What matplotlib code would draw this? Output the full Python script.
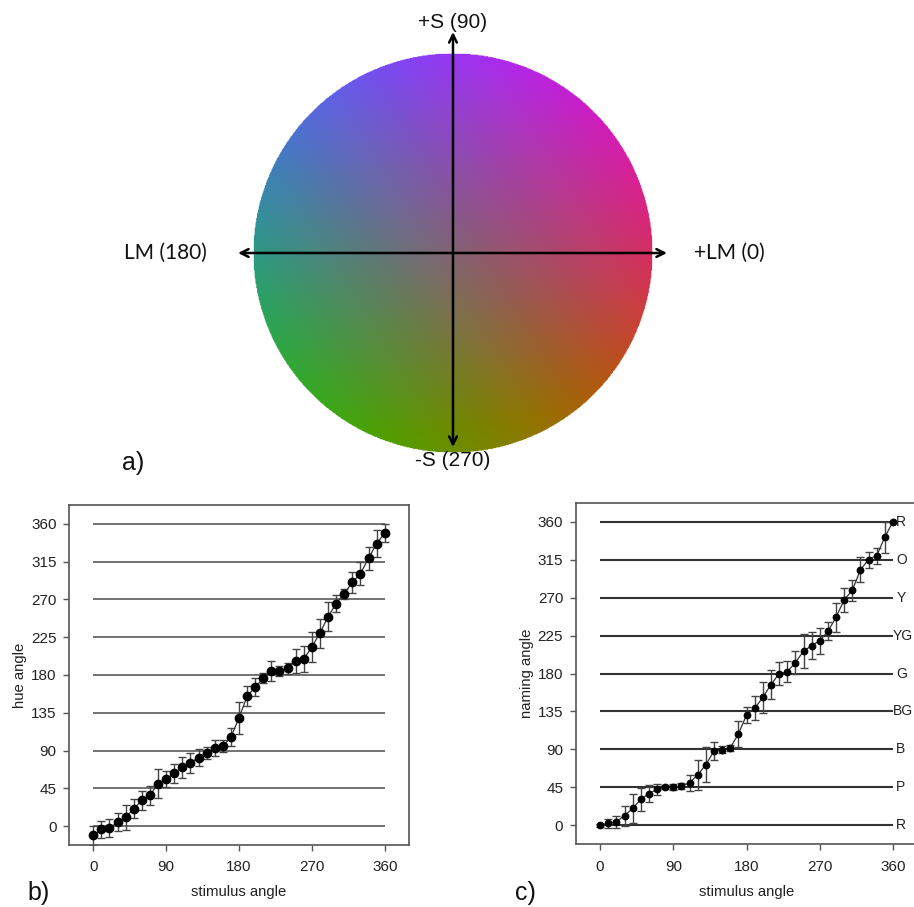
import numpy as np
import matplotlib
matplotlib.use("Agg")
import matplotlib.pyplot as plt
from matplotlib.patches import Circle

plt.rcParams['font.family'] = ['Liberation Sans', 'DejaVu Sans']

# ---------------- data ----------------
stimulus = [0, 10, 20, 30, 40, 50, 60, 70, 80, 90, 100, 110, 120, 130, 140, 150,
            160, 170, 180, 190, 200, 210, 220, 230, 240, 250, 260, 270, 280, 290,
            300, 310, 320, 330, 340, 350, 360]

hue_b = [-11, -4, -2.4, 4.8, 10.7, 20.7, 30.6, 36.6, 50.5, 56, 62.8, 70, 75.5,
         81.5, 87, 92.6, 95.4, 106, 129, 154.6, 165.7, 176, 184.8, 184.8, 188,
         196.7, 199, 213.4, 230, 249.5, 265, 277, 290.5, 300.8, 319, 336.5, 348.9]
err_b = [11, 9.7, 10.7, 10.3, 15, 11.3, 11, 11.3, 17, 9.5, 11, 12.3, 12, 10, 7.4,
         9.5, 7.7, 10.7, 19, 12, 11, 6, 12.3, 5.6, 6.8, 14.3, 16, 17.7, 17.3, 17.5,
         10.3, 6, 12.5, 13.3, 14, 16, 11]

naming_c = [0, 2.4, 4.3, 11.5, 20, 30.8, 37.5, 42.7, 45.5, 45.5, 46.2, 50.6, 59.7,
            72, 88, 89.7, 92, 108.3, 131, 138.7, 151.7, 166.8, 179.8, 182, 193,
            206.5, 213, 219, 230, 246.6, 267.5, 278.6, 303, 315, 319.7, 341.8, 360]
err_c = [1.5, 5.5, 7, 12, 17, 14, 10.3, 6.7, 2.2, 4, 3.4, 9.5, 18, 20.5, 10.3, 3.8,
         3.8, 15.4, 9.5, 14.2, 18, 17.6, 13.4, 12.6, 13.8, 20, 16, 15.4, 10.7, 17.2,
         14.4, 12.6, 14.8, 9.5, 9.5, 18.4, 0]

x_ticks = [0, 90, 180, 270, 360]
y_ticks = [0, 45, 90, 135, 180, 225, 270, 315, 360]
color_names = ['R', 'P', 'B', 'BG', 'G', 'YG', 'Y', 'O', 'R']

# colour-wheel anchor colours (RGB 0-255) at +LM(0), +S(90), LM(180), -S(270)
col_0 = [215, 55, 85]
col_90 = [140, 55, 245]
col_180 = [65, 150, 115]
col_270 = [100, 135, 15]

# ---------------- figure ----------------
W, H = 914, 907
fig = plt.figure(figsize=(W / 100, H / 100), dpi=100)
fig.patch.set_facecolor('white')

# ----- panel a: colour circle -----
R_PX = 200.0
cx, cy = 453, 253
top_h = 480
ax_a = fig.add_axes([0, (H - top_h) / H, 1, top_h / H])
ax_a.set_xlim(-cx / R_PX, (W - cx) / R_PX)
ax_a.set_ylim(-(top_h - cy) / R_PX, cy / R_PX)
ax_a.axis('off')

n = 500
g = np.linspace(-1, 1, n)
X, Y = np.meshgrid(g, g)
r = np.hypot(X, Y)
th = np.arctan2(Y, X)
c0, c90, c180, c270 = (np.array(c, float) for c in (col_0, col_90, col_180, col_270))
gray = (c0 + c90 + c180 + c270) / 4
va = (c0 - c180) / 2
vb = (c90 - c270) / 2
rr = np.clip(r, 0, 1)[..., None]
img = gray + rr * (np.cos(th)[..., None] * va + np.sin(th)[..., None] * vb) * 1.12
img = np.clip(img, 0, 255) / 255.0
alpha = (r <= 1.0).astype(float)[..., None]
rgba = np.concatenate([img, alpha], axis=-1)
im = ax_a.imshow(rgba, extent=(-1, 1, -1, 1), origin='lower', interpolation='bilinear')
im.set_clip_path(Circle((0, 0), 1.0, transform=ax_a.transData))

arrow_kw = dict(arrowstyle='<->', color='black', lw=1.8, mutation_scale=14,
                shrinkA=0, shrinkB=0)
ax_a.annotate('', xy=(1.07, 0), xytext=(-1.075, 0), arrowprops=arrow_kw)
ax_a.annotate('', xy=(0, 1.105), xytext=(0, -0.97), arrowprops=arrow_kw)

ax_a.text(0, 1.15, '+S (90)', ha='center', va='center', fontsize=15, color='#111111')
ax_a.text(0, -1.04, '-S (270)', ha='center', va='center', fontsize=15, color='#111111')
ax_a.text(-1.23, 0, 'LM (180)', ha='right', va='center', fontsize=15,
          family=['Lato', 'DejaVu Sans'], color='#111111')
ax_a.text(1.205, 0, '+LM (0)', ha='left', va='center', fontsize=15,
          family=['Lato', 'DejaVu Sans'], color='#111111')
ax_a.text(-1.655, -1.05, 'a)', ha='left', va='center', fontsize=18, color='#111111')


def style_panel(ax, xs, ys, es, ylabel, line_col, ms, lw_grid):
    ax.set_xlim(-30, 390)
    ax.set_ylim(-22.5, 382.5)
    ax.hlines(y_ticks, 0, 360, colors=line_col, lw=lw_grid, zorder=1)
    ax.errorbar(xs, ys, yerr=es, fmt='-', color='#333333', lw=0.9,
                ecolor='#444444', elinewidth=1.0, capsize=2.6, capthick=1.0, zorder=2)
    ax.plot(xs, ys, 'o', color='black', ms=ms, zorder=3)
    ax.set_xticks(x_ticks)
    ax.set_yticks(y_ticks)
    ax.tick_params(direction='out', length=4, width=1, color='#555555',
                   labelsize=11, labelcolor='#222222')
    ax.tick_params(axis='x', pad=7)
    ax.tick_params(axis='y', pad=5)
    for s in ax.spines.values():
        s.set_color('#555555')
        s.set_linewidth(1.2)
    ax.set_xlabel('stimulus angle', fontsize=10.7, color='#222222', labelpad=8)
    ax.set_ylabel(ylabel, fontsize=10.7, color='#222222', labelpad=3)


# ----- panel b -----
ax_b = fig.add_axes([69 / W, (H - 845) / H, 340 / W, 340 / H])
style_panel(ax_b, stimulus, hue_b, err_b, 'hue angle', '#5a5a5a', 6, 1.2)
fig.text(27 / W, 1 - 893 / H, 'b)', ha='left', va='center', fontsize=18, color='#111111')

# ----- panel c -----
ax_c = fig.add_axes([575.7 / W, (H - 844.3) / H, 341.7 / W, 341.6 / H])
style_panel(ax_c, stimulus, naming_c, err_c, 'naming angle', '#333333', 4.6, 1.5)
for yv, nm in zip(y_ticks, color_names):
    xpos = 360 if len(nm) > 1 else 364
    ax_c.text(xpos, yv, nm, ha='left', va='center', fontsize=10, color='#222222',
              clip_on=False)
fig.text(515 / W, 1 - 893 / H, 'c)', ha='left', va='center', fontsize=18, color='#111111')

fig.savefig('out.png', dpi=100, facecolor='white')
